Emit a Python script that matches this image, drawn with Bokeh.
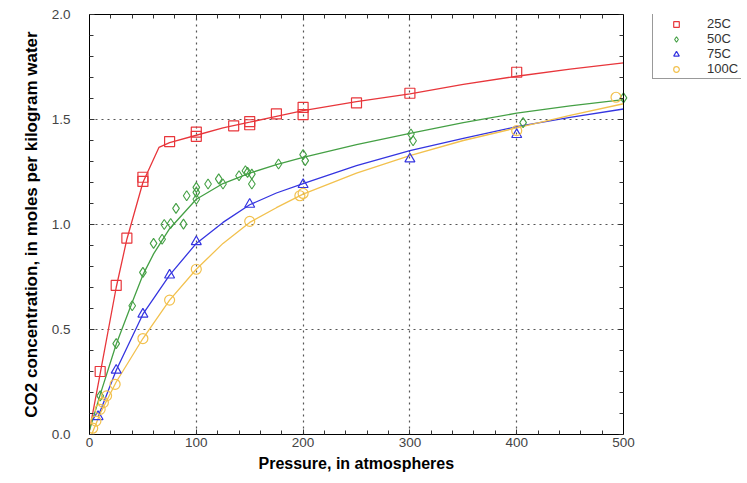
from bokeh.plotting import figure
from bokeh.models import (LinearAxis, Range1d, Legend, LegendItem, FixedTicker, Title,
                          SingleIntervalTicker, NumeralTickFormatter, CustomJSTickFormatter)
from bokeh.embed import file_html
from bokeh.resources import INLINE

# ---- data ----
series_names = ["25C", "50C", "75C", "100C"]

red_p = [10, 25, 35, 50, 50, 75, 100, 100, 135, 150, 150, 175, 200, 200, 250, 300, 400]
red_c = [0.30, 0.71, 0.935, 1.205, 1.225, 1.395, 1.42, 1.44, 1.47, 1.475, 1.49, 1.527,
         1.523, 1.558, 1.579, 1.625, 1.725]

green_p = [10, 25, 40, 50, 60, 68, 70, 76, 81, 88, 91, 100, 100, 100, 111, 121, 125,
           140, 146, 148, 152, 152, 177, 200, 202, 301, 303, 406, 500]
green_c = [0.184, 0.433, 0.613, 0.772, 0.91, 0.93, 1.0, 1.005, 1.077, 1.002, 1.137,
           1.12, 1.153, 1.177, 1.193, 1.217, 1.193, 1.232, 1.256, 1.248, 1.24, 1.193,
           1.288, 1.333, 1.304, 1.431, 1.399, 1.485, 1.603]

blue_p = [8, 25, 50, 75, 100, 150, 200, 300, 400]
blue_c = [0.085, 0.306, 0.573, 0.759, 0.918, 1.096, 1.19, 1.312, 1.428]

orange_p = [3, 6, 10, 13, 16, 24, 50, 75, 100, 150, 197, 200, 400, 493]
orange_c = [0.03, 0.064, 0.12, 0.152, 0.184, 0.239, 0.457, 0.64, 0.787, 1.015, 1.137,
            1.148, 1.447, 1.606]

red_fit_p = [0, 10, 25, 35, 50, 65, 75, 100, 125, 150, 175, 200, 250, 300, 350, 400, 450, 500]
red_fit_c = [0.02, 0.29, 0.70, 0.93, 1.20, 1.367, 1.39, 1.425, 1.46, 1.487, 1.515, 1.542,
             1.585, 1.622, 1.667, 1.706, 1.740, 1.770]

green_fit_p = [0, 10, 25, 40, 50, 60, 75, 100, 125, 150, 175, 200, 250, 300, 350, 400, 450, 500]
green_fit_c = [0.02, 0.19, 0.43, 0.63, 0.76, 0.86, 0.98, 1.12, 1.195, 1.245, 1.285, 1.32,
               1.38, 1.434, 1.485, 1.53, 1.565, 1.595]

blue_fit_p = [8, 25, 50, 75, 100, 125, 150, 175, 200, 250, 300, 350, 400, 450, 500]
blue_fit_c = [0.085, 0.306, 0.573, 0.759, 0.91, 1.01, 1.094, 1.15, 1.195, 1.28, 1.352,
              1.41, 1.466, 1.51, 1.55]

orange_fit_p = [2, 10, 25, 50, 75, 100, 125, 150, 175, 200, 250, 300, 350, 400, 450, 500]
orange_fit_c = [0.0, 0.1, 0.25, 0.457, 0.64, 0.787, 0.91, 1.01, 1.08, 1.145, 1.245, 1.328,
                1.40, 1.46, 1.52, 1.575]

x_ticks = [0, 100, 200, 300, 400, 500]
x_minor = [20, 40, 60, 80, 120, 140, 160, 180, 220, 240, 260, 280,
           320, 340, 360, 380, 420, 440, 460, 480]
x_grid = [100, 200, 300, 400]
x_max = 500
y_max = 2.0

x_label = "Pressure, in atmospheres"
y_label = "CO2 concentration, in moles per kilogram water"

# ---- styling ----
RED = "#e8363b"
GREEN = "#45a045"
BLUE = "#3535e0"
ORANGE = "#f2c14e"
FONT = "Liberation Sans"

BOX_W = 534          # pixel width of the axes box
FRAME_W = 652        # frame reaches into the legend area
x_end = x_max * FRAME_W / BOX_W

p = figure(frame_width=FRAME_W, frame_height=420,
           x_range=Range1d(0, x_end), y_range=Range1d(0, y_max),
           output_backend="svg", toolbar_location=None,
           min_border_left=89, min_border_right=0, min_border_top=14, min_border_bottom=0)
p.background_fill_color = "white"
p.border_fill_color = "white"
p.outline_line_color = None

xt = FixedTicker(ticks=x_ticks, minor_ticks=x_minor)
yt = SingleIntervalTicker(interval=0.5, num_minor_ticks=5)


def style_axis(ax):
    ax.axis_line_color = "black"
    ax.major_tick_line_color = "#333333"
    ax.minor_tick_line_color = "#333333"
    ax.major_tick_in = 5
    ax.major_tick_out = 0
    ax.minor_tick_in = 4
    ax.minor_tick_out = 0
    ax.major_label_text_font = FONT
    ax.major_label_text_color = "#444444"
    ax.major_label_text_font_size = "13.5px"
    ax.axis_label_text_font = FONT
    ax.axis_label_text_font_style = "bold"
    ax.axis_label_text_color = "black"


p.xaxis.ticker = xt
p.xaxis.bounds = (0, x_max)
p.yaxis.ticker = yt
p.yaxis.formatter = NumeralTickFormatter(format="0.0")
for ax in p.xaxis + p.yaxis:
    style_axis(ax)
p.xaxis.major_label_standoff = 3
p.yaxis.major_label_standoff = 19
p.yaxis.axis_label = y_label
p.yaxis.axis_label_text_font_size = "17px"
p.yaxis.axis_label_standoff = 8

# x title placed under the 0-500 box (left aligned with an offset from the frame edge)
x_title = Title(text=x_label, align="left", offset=169,
                text_font=FONT, text_font_style="bold", text_font_size="16px",
                text_color="black", standoff=7)
p.add_layout(x_title, "below")

blank = CustomJSTickFormatter(code="return ''")
top_ax = LinearAxis(ticker=FixedTicker(ticks=x_ticks, minor_ticks=x_minor),
                    formatter=blank, bounds=(0, x_max))
right_ax = LinearAxis(ticker=SingleIntervalTicker(interval=0.5, num_minor_ticks=5),
                      formatter=blank, fixed_location=x_max)
for ax in (top_ax, right_ax):
    style_axis(ax)
    ax.major_label_standoff = 0
p.add_layout(top_ax, "above")
p.add_layout(right_ax, "right")

p.xgrid.ticker = FixedTicker(ticks=x_grid)
p.ygrid.ticker = yt
p.ygrid.cross_bounds = (0, x_max)
for g in (p.xgrid, p.ygrid):
    g.grid_line_color = "#555555"
    g.grid_line_dash = "2 4"
    g.grid_line_width = 1.2

LW = 1.3
p.line(red_fit_p, red_fit_c, line_color=RED, line_width=LW)
p.line(green_fit_p, green_fit_c, line_color=GREEN, line_width=LW)
p.line(blue_fit_p, blue_fit_c, line_color=BLUE, line_width=LW)
p.line(orange_fit_p, orange_fit_c, line_color=ORANGE, line_width=LW)

r_red = p.scatter(red_p, red_c, marker="square", size=10, fill_color=None,
                  line_color=RED, line_width=1.2)
r_green = p.scatter(green_p, green_c, marker="diamond", size=10, fill_color=None,
                    line_color=GREEN, line_width=1.1)
r_blue = p.scatter(blue_p, blue_c, marker="triangle", size=10, fill_color=None,
                   line_color=BLUE, line_width=1.2)
r_orange = p.scatter(orange_p, orange_c, marker="circle", size=10, fill_color=None,
                     line_color=ORANGE, line_width=1.2)

legend = Legend(items=[LegendItem(label=n, renderers=[r])
                       for n, r in zip(series_names, [r_red, r_green, r_blue, r_orange])],
                location=(563, 355), margin=0, padding=2, spacing=0,
                glyph_width=42, glyph_height=14, label_height=14, label_standoff=10,
                label_width=32,
                label_text_font=FONT, label_text_font_size="13px",
                label_text_color="#333333",
                border_line_color="#333333", border_line_width=1,
                background_fill_color="white", background_fill_alpha=1)
p.add_layout(legend, "center")

open("out.html", "w").write(file_html(p, INLINE))
